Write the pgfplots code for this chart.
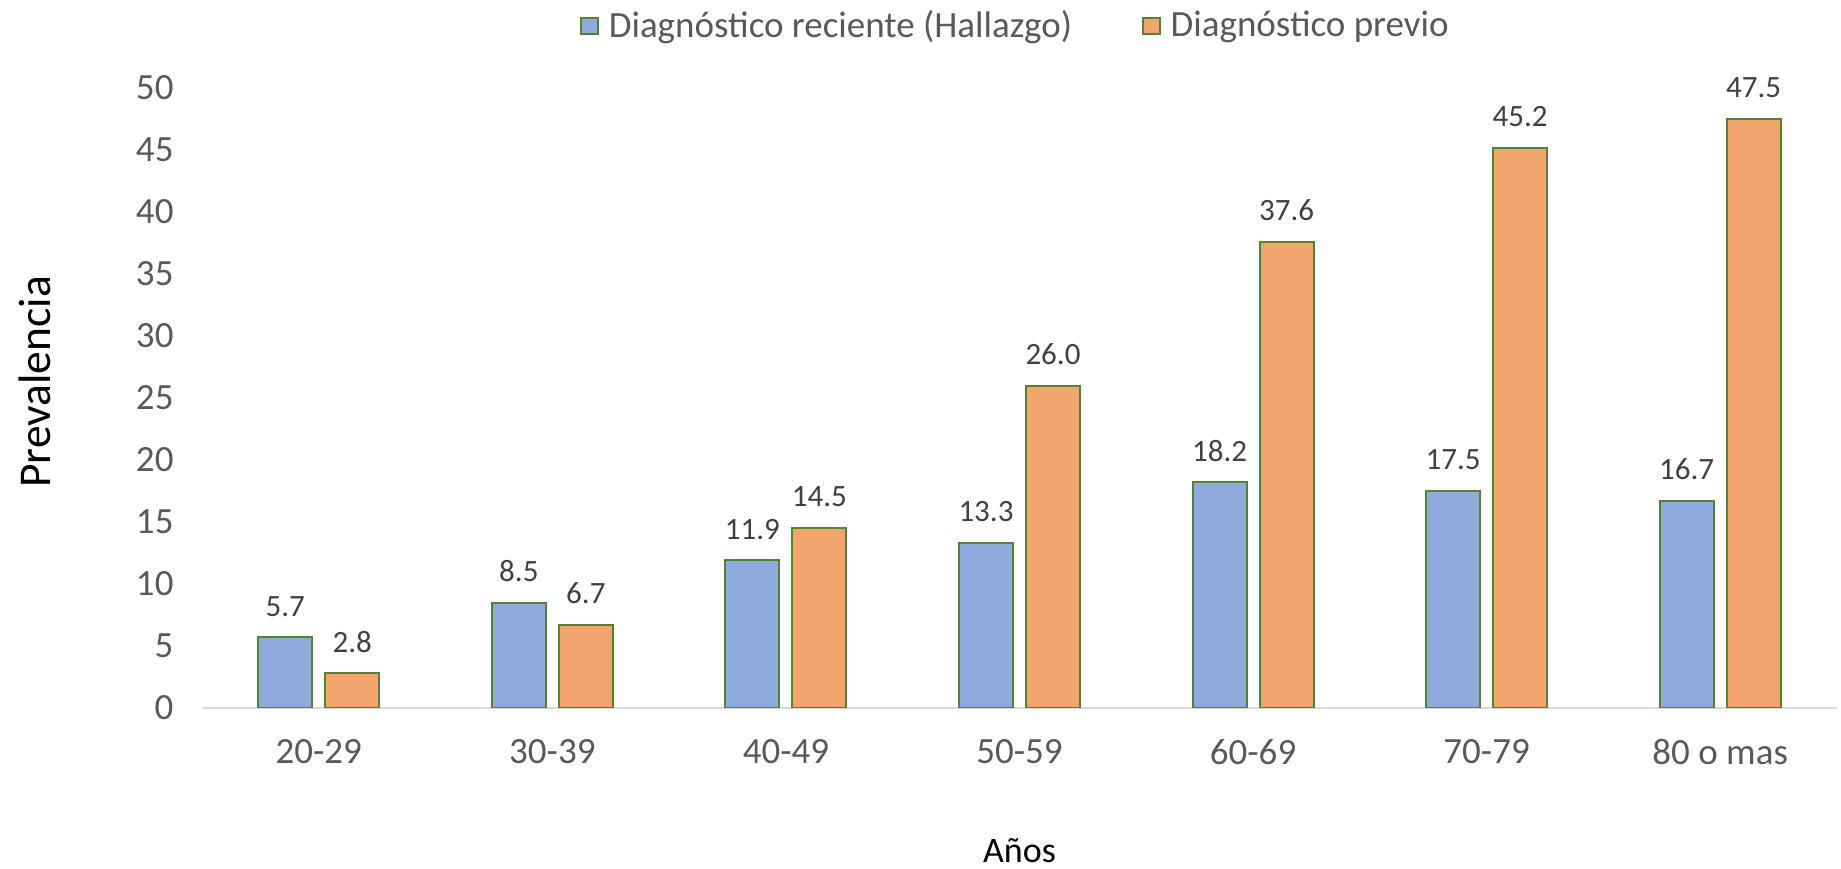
\documentclass[border=0pt]{standalone}
\usepackage{fontspec}
\setmainfont{Carlito}
\usepackage{pgfplots}
\pgfplotsset{compat=1.18}
\definecolor{bblue}{HTML}{8FAADC}
\definecolor{borange}{HTML}{F1A46C}
\definecolor{bedge}{HTML}{548235}
\definecolor{txt}{HTML}{595959}
\definecolor{lbl}{HTML}{404040}
\definecolor{axgray}{HTML}{D9D9D9}
\begin{document}
\begin{tikzpicture}
\begin{axis}[
  at={(0,0)}, anchor=south west,
  scale only axis, width=654pt, height=248pt,
  xmin=-0.5, xmax=6.5, ymin=0, ymax=50,
  /pgf/number format/assume math mode=true,
  xtick={0,...,6},
  xticklabels={20-29,30-39,40-49,50-59,60-69,70-79,80 o mas},
  ytick={0,5,...,50},
  axis x line=bottom, axis y line=left,
  x axis line style={draw=axgray, line width=0.8pt, -},
  y axis line style={draw=none},
  major tick length=0pt, tick style={draw=none},
  xticklabel style={font=\fontsize{14.8}{17}\selectfont, text=txt, inner sep=0pt, anchor=north, yshift=-12.4pt},
  yticklabel style={font=\fontsize{14.8}{17}\selectfont, text=txt, inner sep=0pt, anchor=east, xshift=-11.2pt},
  xlabel={Años},
  xlabel style={at={(axis description cs:0.5,0)}, anchor=center, yshift=-57.2pt, font=\fontsize{14.4}{17}\selectfont, text=black, inner sep=0pt},
  ylabel={Prevalencia},
  ylabel style={at={(axis description cs:-0.1021,0.526)}, anchor=center, rotate=0, font=\fontsize{18.2}{21}\selectfont, text=black, inner sep=0pt},
  ybar=5.2pt, bar width=21.6pt,
  nodes near coords={\pgfmathprintnumber[fixed,fixed zerofill,precision=1]{\pgfplotspointmeta}},
  nodes near coords style={font=\fontsize{12.4}{15}\selectfont, text=lbl, inner sep=0pt, anchor=south, yshift=8pt},
  legend columns=2,
  legend style={at={(axis description cs:0.5,1.1)}, anchor=center, draw=none, fill=none,
    font=\fontsize{14.8}{17}\selectfont, text=txt,
    nodes={inner xsep=4pt},
    /tikz/every even column/.append style={column sep=24pt}},
  legend image code/.code={\draw[#1] (0pt,-3.3pt) rectangle (6.6pt,3.3pt);},
]
\addplot[fill=bblue, draw=bedge, line width=0.8pt] coordinates {(0,5.7) (1,8.5) (2,11.9) (3,13.3) (4,18.2) (5,17.5) (6,16.7)};
\addplot[fill=borange, draw=bedge, line width=0.8pt] coordinates {(0,2.8) (1,6.7) (2,14.5) (3,26.0) (4,37.6) (5,45.2) (6,47.5)};
\legend{Diagnóstico reciente (Hallazgo), Diagnóstico previo}
\end{axis}
\pgfresetboundingbox
\path (-80.8pt,-64.4pt) rectangle (655.6pt,283.2pt);
\end{tikzpicture}
\end{document}
